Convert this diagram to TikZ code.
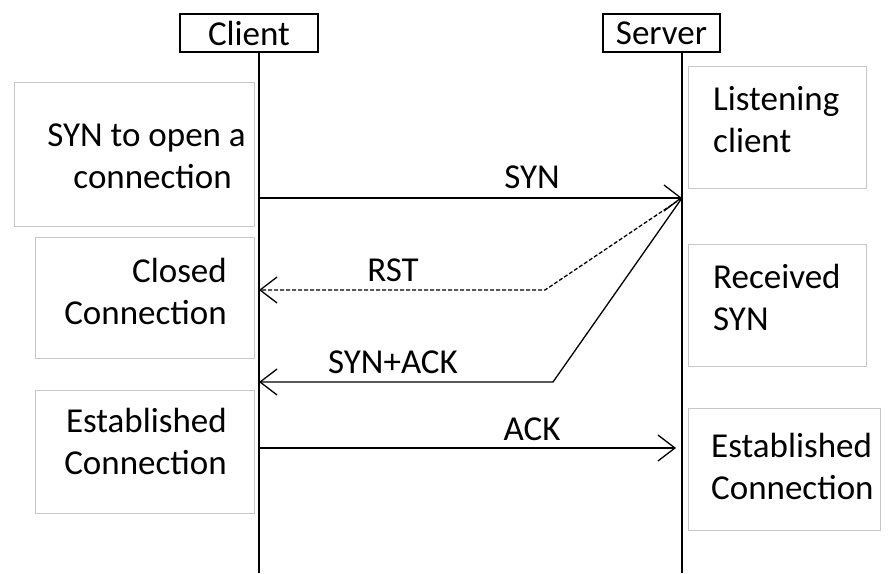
\documentclass[tikz,border=0pt]{standalone}
\usepackage{fontspec}
\setmainfont{Carlito}
\usetikzlibrary{positioning,arrows.meta}

\begin{document}
\begin{tikzpicture}[x=1pt, y=-1pt,
    font=\fontsize{35}{42}\selectfont,
    actor/.style={rectangle, draw, line width=1.8pt, minimum height=38pt, inner sep=0pt},
    note/.style={rectangle, draw=black!22, line width=1.3pt, minimum height=122pt, inner sep=0pt},
    lifeline/.style={line width=2.6pt},
    msg/.style={line width=1.3pt, -{Straight Barb[length=17pt,width=26pt,line width=1.3pt]}},
    lbl/.style={inner sep=0pt}
    ]
\useasboundingbox (0,0) rectangle (893,573);

% actors
\node[actor, minimum width=138pt] (client) at (249,33) {Client};
\node[actor, minimum width=117pt] (server) at (661.5,33) {Server};
\coordinate (cend) at (259,573);
\coordinate (send) at (682,573);
\draw[lifeline] (client.south -| cend) -- (cend);
\draw[lifeline] (server.south -| send) -- (send);

% client side notes
\node[note, minimum width=240pt, minimum height=144pt, anchor=north west] (opennote) at (14,82) {};
\node[lbl, align=right, anchor=east] (opentext) at (246,156) {SYN to open a\\connection\hspace*{14pt}};
\node[note, minimum width=219pt, minimum height=121pt, anchor=north west] (closenote) at (35,237) {};
\node[lbl, align=right, anchor=east] (closetext) at (227,291) {Closed\\Connection};
\node[note, minimum width=219pt, minimum height=123pt, anchor=north west] (estnote) at (35,390) {};
\node[lbl, align=right, anchor=east] (esttext) at (227,441) {Established\\Connection};

% server side notes
\node[note, minimum width=178pt, anchor=north west] (listennote) at (688,66) {};
\node[lbl, align=left, anchor=west] (listentext) at (713,120) {Listening\\client};
\node[note, minimum width=178pt, anchor=north west] (recvnote) at (688,244) {};
\node[lbl, align=left, anchor=west] (recvtext) at (713,297) {Received\\SYN};
\node[note, minimum width=192pt, anchor=north west] (sestnote) at (688,408) {};
\node[lbl, align=left, anchor=west] (sesttext) at (711,466) {Established\\Connection};

% messages
\coordinate (synout) at (259,198);
\coordinate (synin) at (682,198);
\coordinate (rstbend) at (545,290);
\coordinate (rstin) at (259,290);
\coordinate (sabend) at (553,382);
\coordinate (sain) at (259,382);
\coordinate (ackout) at (259,448);
\coordinate (ackin) at (676,448);

\draw[msg] (synout) -- (synin);
\draw[msg, dash pattern=on 4pt off 2pt] (synin) -- (rstbend) -- (rstin);
\draw[msg] (synin) -- (sabend) -- (sain);
\draw[msg] (ackout) -- (ackin);

\node[lbl] (synlbl) at (532,177) {SYN};
\node[lbl] (rstlbl) at (393,270) {RST};
\node[lbl] (salbl) at (393,362) {SYN+ACK};
\node[lbl] (acklbl) at (532,429) {ACK};
\end{tikzpicture}
\end{document}
